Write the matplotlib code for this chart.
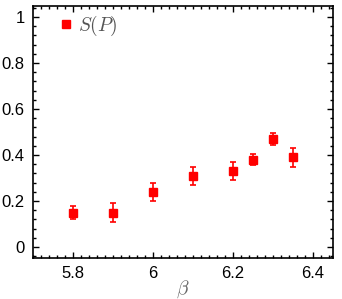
import matplotlib
matplotlib.use("Agg")
import matplotlib.pyplot as plt
from matplotlib.lines import Line2D
from matplotlib.ticker import MultipleLocator

beta = [5.8, 5.9, 6.0, 6.1, 6.2, 6.25, 6.3, 6.35]
s_p = [0.15, 0.15, 0.24, 0.31, 0.33, 0.38, 0.47, 0.39]
s_err = [0.03, 0.04, 0.04, 0.04, 0.04, 0.025, 0.025, 0.04]

plt.rcParams["font.family"] = ["Liberation Sans", "DejaVu Sans"]
plt.rcParams["mathtext.fontset"] = "cm"

fig = plt.figure(figsize=(3.42, 2.99), dpi=100)
ax = fig.add_axes([0.0965, 0.137, 0.877, 0.843])

ax.errorbar(beta, s_p, yerr=s_err, fmt="s", color="#ff0000", ms=6,
            elinewidth=1.2, capsize=2.0, capthick=1.2)

ax.set_xlim(5.7, 6.45)
ax.set_ylim(-0.048, 1.048)
ax.set_xticks([5.8, 6.0, 6.2, 6.4])
ax.set_xticklabels(["5.8", "6", "6.2", "6.4"])
ax.set_yticks([0, 0.2, 0.4, 0.6, 0.8, 1.0])
ax.set_yticklabels(["0", "0.2", "0.4", "0.6", "0.8", "1"])
ax.xaxis.set_minor_locator(MultipleLocator(0.02))
ax.yaxis.set_minor_locator(MultipleLocator(0.04))
ax.tick_params(which="both", direction="in", top=True, right=True, width=1.0)
ax.tick_params(which="major", length=4.5, labelsize=12, pad=6)
ax.tick_params(which="minor", length=2.2)
for sp in ax.spines.values():
    sp.set_linewidth(1.2)

ax.set_xlabel(r"$\beta$", fontsize=14, color="#666666", labelpad=-2)

handle = Line2D([], [], marker="s", ls="none", color="#ff0000", ms=5.5)
leg = ax.legend([handle], [r"$S(P)$"], loc="upper left", frameon=False,
                fontsize=14, handletextpad=0.1, handlelength=1.0,
                bbox_to_anchor=(0.04, 1.015), borderaxespad=0.2)
for t in leg.get_texts():
    t.set_color("#555555")

fig.savefig("out.png", dpi=100)
